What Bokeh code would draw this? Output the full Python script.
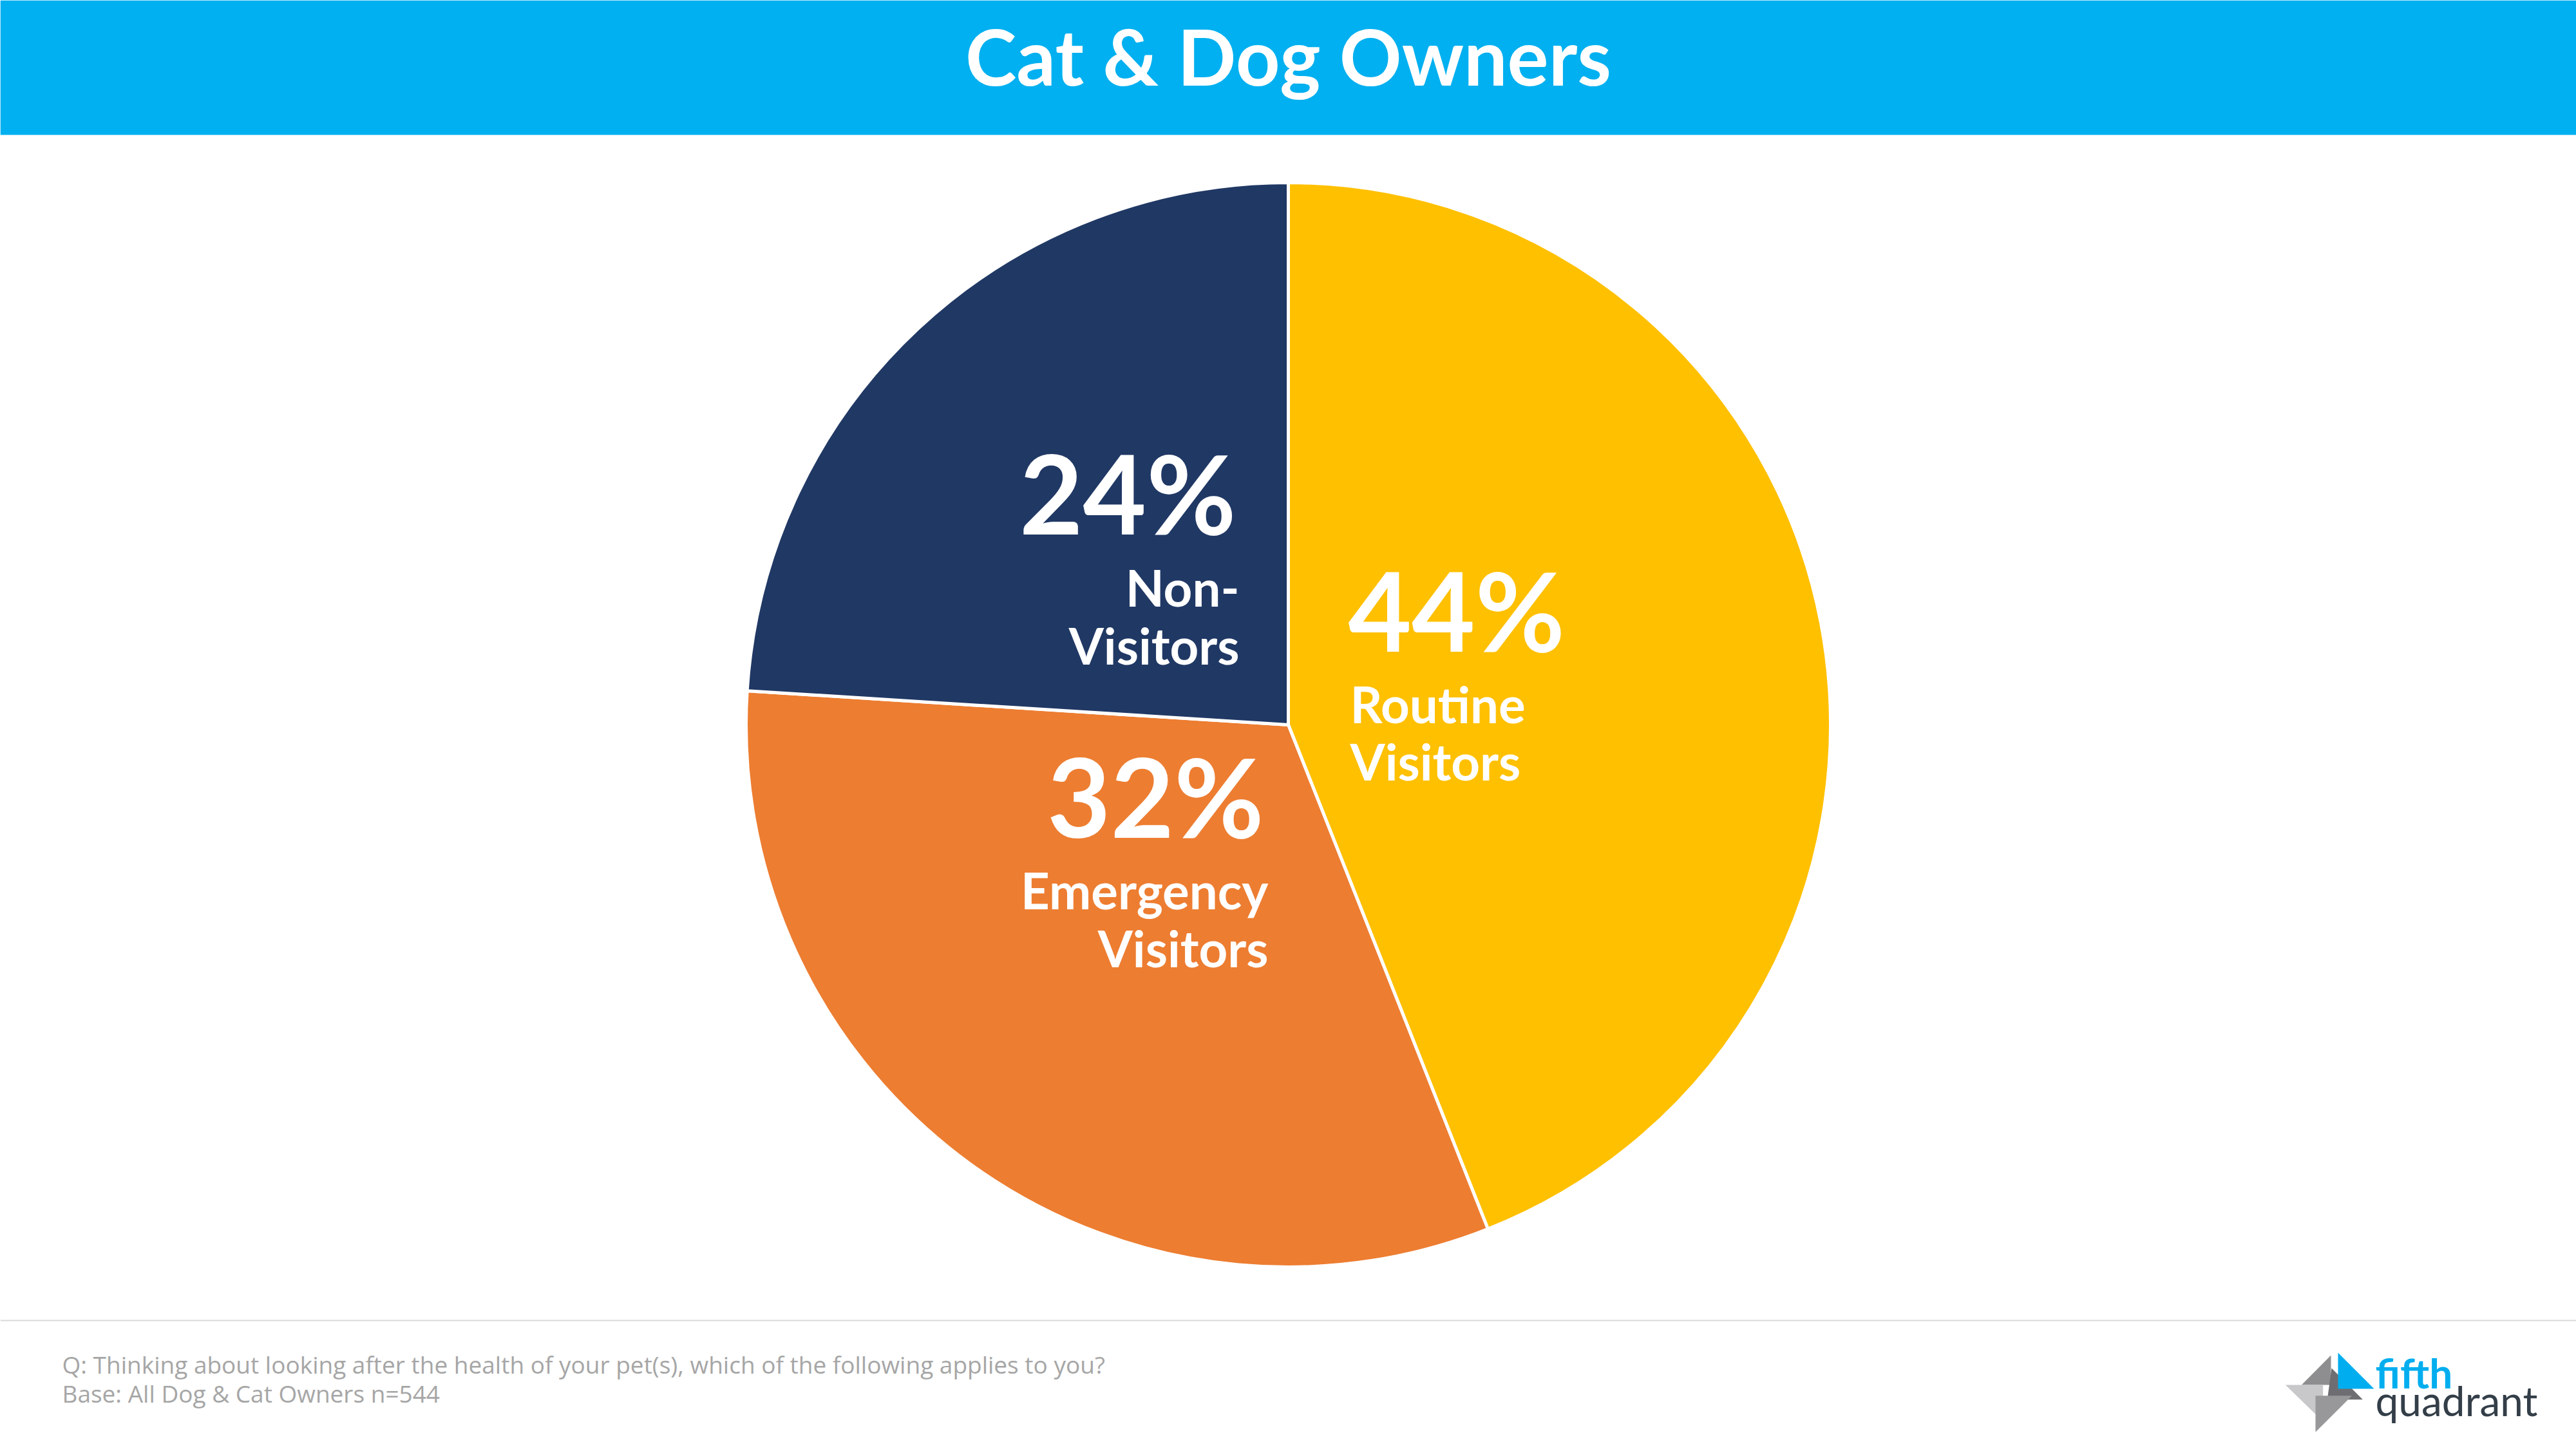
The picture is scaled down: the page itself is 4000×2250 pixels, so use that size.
import math
from bokeh.plotting import figure
from bokeh.models import Range1d, ColumnDataSource
from bokeh.core.properties import value
from bokeh.embed import file_html
from bokeh.resources import INLINE

# ---- data ----
title = "Cat & Dog Owners"
categories = ["Routine Visitors", "Emergency Visitors", "Non-Visitors"]
shares = [44, 32, 24]
pct_labels = ["44%", "32%", "24%"]
name_line1 = ["Routine", "Emergency", "Non-"]
name_line2 = ["Visitors", "Visitors", "Visitors"]
slice_colors = ["#FFC000", "#ED7D31", "#203864"]
footnote_q = "Q: Thinking about looking after the health of your pet(s), which of the following applies to you?"
footnote_base = "Base: All Dog & Cat Owners n=544"

W, H = 4000, 2250
BASE_FIX = 0.38  # empirical baseline correction (fraction of font size)


def Y(py):
    """convert a top-down pixel y into the figure's bottom-up y"""
    return H - py


def TY(py, size):
    """text baseline position in figure coords, corrected"""
    return H - (py - BASE_FIX * size)


p = figure(width=W, height=H, x_range=Range1d(0, W), y_range=Range1d(0, H),
           output_backend="svg", toolbar_location=None,
           x_axis_type=None, y_axis_type=None, min_border=0,
           background_fill_color="white", border_fill_color="white",
           outline_line_color=None)
p.grid.visible = False

# header band
TS = 120
p.quad(left=[0], right=[W], top=[Y(0)], bottom=[Y(209)],
       fill_color="#00B0F0", line_color=None)
p.text(x=[W / 2], y=[TY(132, TS)], text=[title], text_color="white",
       text_font=value("Lato"), text_font_style="bold",
       text_font_size=f"{TS}px", text_align="center", text_baseline="alphabetic")

# pie
total = sum(shares)
starts, ends = [], []
a = math.pi / 2
for s in shares:
    starts.append(a)
    a -= 2 * math.pi * s / total
    ends.append(a)
pie_src = ColumnDataSource(dict(cat=categories, start=starts, end=ends, color=slice_colors))
p.wedge(x=2000, y=Y(1125), radius=842, radius_units="screen",
        start_angle="start", end_angle="end", direction="clock",
        fill_color="color", line_color="white", line_width=5, source=pie_src)

# slice labels (anchor positions are layout)
PS, NS = 170, 78
pct_x = [2093, 1962, 1919]
pct_y = [1010, 1299, 828]
name_x = [2096, 1969, 1924]
name_y1 = [1122, 1411, 941]
name_y2 = [1211, 1501, 1031]
aligns = ["left", "right", "right"]

lab = ColumnDataSource(dict(x=pct_x, y=[TY(v, PS) for v in pct_y], t=pct_labels, al=aligns))
p.text(x="x", y="y", text="t", text_align="al", source=lab,
       text_color="white", text_font=value("Lato"), text_font_style="bold",
       text_font_size=f"{PS}px", text_baseline="alphabetic")
for ys, ts in ((name_y1, name_line1), (name_y2, name_line2)):
    src = ColumnDataSource(dict(x=name_x, y=[TY(v, NS) for v in ys], t=ts, al=aligns))
    p.text(x="x", y="y", text="t", text_align="al", source=src,
           text_color="white", text_font=value("Lato"), text_font_style="bold",
           text_font_size=f"{NS}px", text_baseline="alphabetic")

# footer separator
p.segment(x0=[0], y0=[Y(2050)], x1=[W], y1=[Y(2050)], line_color="#D9D9D9", line_width=2)

# footnotes
FS = 37
p.text(x=[96, 96], y=[TY(2132, FS), TY(2177, FS)], text=[footnote_q, footnote_base],
       text_color="#A6A6A6", text_font=value("Open Sans"),
       text_font_size=f"{FS}px", text_baseline="alphabetic", text_align="left")

# logo
def L(zx, zy):
    return 3500 + zx / 3, Y(2050 + zy / 3)

logo_shapes = [
    ([(357, 162), (357, 300), (220, 300)], "#8E8E90"),
    ([(360, 222), (505, 368), (340, 368)], "#6E6E72"),
    ([(145, 300), (320, 300), (320, 470)], "#C8C8CA"),
    ([(285, 350), (455, 350), (285, 520)], "#98989A"),
    ([(390, 150), (390, 318), (558, 318)], "#00AEEF"),
]
for pts, col in logo_shapes:
    xs = [L(*q)[0] for q in pts]
    ys = [L(*q)[1] for q in pts]
    p.patch(x=xs, y=ys, fill_color=col, line_color=None)

LS = 64
p.text(x=[3688], y=[TY(2155, LS)], text=["fifth"], text_color="#00AEEF",
       text_font=value("Lato"), text_font_style="bold", text_font_size=f"{LS}px",
       text_baseline="alphabetic")
p.text(x=[3688], y=[TY(2198, LS)], text=["quadrant"], text_color="#333E48",
       text_font=value("Lato"), text_font_size=f"{LS}px",
       text_baseline="alphabetic")

open("out.html", "w").write(file_html(p, INLINE))
